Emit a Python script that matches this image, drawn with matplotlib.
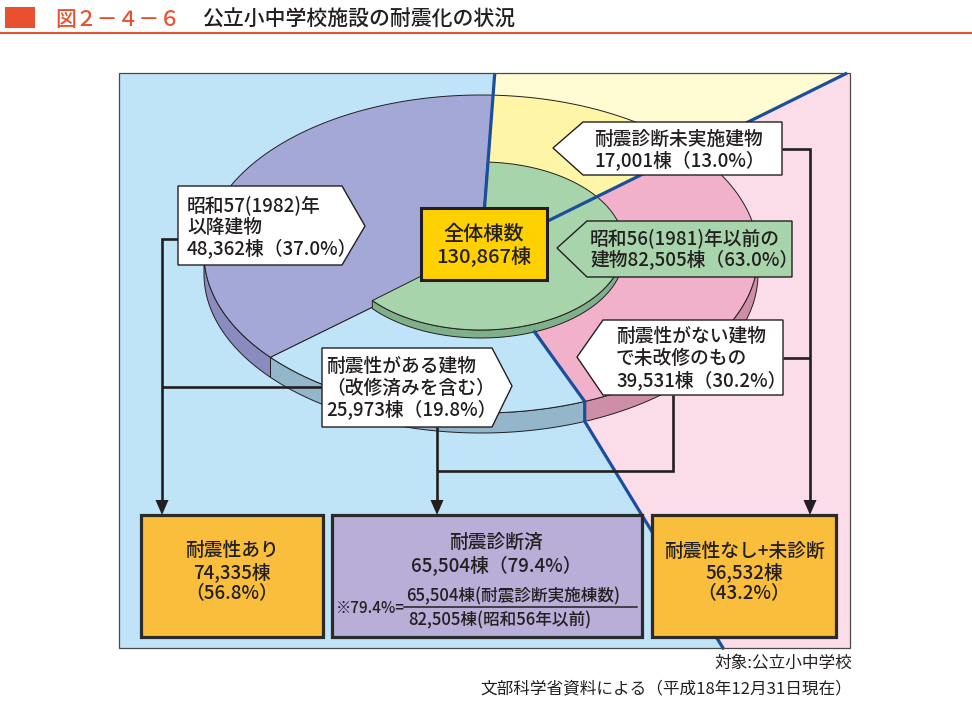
import numpy as np
import matplotlib.pyplot as plt
import matplotlib.patches as patches

plt.rcParams['font.family'] = ['Noto Sans CJK JP', 'DejaVu Sans']
plt.rcParams['font.weight'] = 'medium'

# データ（文部科学省資料、平成18年12月31日現在）
seg_counts = [48362, 25973, 39531, 17001]   # 昭和57以降 / 耐震性あり / 耐震性なし / 未診断
seg_pcts = [37.0, 19.8, 30.2, 13.0]
old_count, old_pct = 82505, 63.0            # 昭和56年以前
total_count = 130867
safe_count, safe_pct = 74335, 56.8
diag_count, diag_pct = 65504, 79.4
unsafe_count, unsafe_pct = 56532, 43.2

# 色
BG_BLUE, BG_YEL, BG_PINK = '#bfe4f7', '#fffbd2', '#fbdde9'
face_cols = ['#a4a8d6', '#bfe4f7', '#f2b1cb', '#fff5a6']
side_cols = ['#8a8cc0', '#93b6ca', '#cf8ea8', '#e0d58a']
GREEN, GREEN_SIDE = '#a8d4ac', '#7fb08a'
LINE_BLUE = '#1b4e9b'
INK = '#231f20'
RED = '#e8502f'

# 円グラフの形（ピクセル座標）
CX, CY, RX, RY, TH = 481, 254, 277, 159, 20
GCX, GCY, GRX, GRY, GTH = 481, 246, 143, 84, 8
START = 87.5
PX0, PY0, PX1, PY1 = 119, 73, 850, 648

fig = plt.figure(figsize=(9.72, 7.06), dpi=100)
ax = fig.add_axes([0, 0, 1, 1])
ax.set_xlim(0, 972)
ax.set_ylim(706, 0)
ax.axis('off')


def arc(cx, cy, rx, ry, a0, a1, n=200):
    t = np.radians(np.linspace(a0, a1, n))
    return np.column_stack([cx + rx * np.cos(t), cy - ry * np.sin(t)])


def pt(cx, cy, rx, ry, a):
    return cx + rx * np.cos(np.radians(a)), cy - ry * np.sin(np.radians(a))


total = sum(seg_counts)
cum = np.concatenate([[0], np.cumsum(seg_counts)]) / total * 360 + START
green_a0 = START + 360 - old_count / total * 360
green_a1 = START + 360

# 背景の区切り線（扇形の境界を延長）
ta = (CY - PY0) / (RY * np.sin(np.radians(cum[0])))
lineA_end = (CX + RX * np.cos(np.radians(cum[0])) * ta, PY0)
bx, by = RX * np.cos(np.radians(cum[3])), RY * np.sin(np.radians(cum[3]))
tb = min((PX1 - CX) / bx, (CY - PY0) / by)
lineB_end = (CX + bx * tb, CY - by * tb)
c_in = pt(GCX, GCY + GTH, GRX, GRY, cum[2])
c_rim = pt(CX, CY, RX, RY, cum[2])
c_low = (c_rim[0], c_rim[1] + TH)
c_end = (723, PY1)
lineC = [c_in, c_rim, c_low, c_end]

blue_poly = [(PX0, PY0), lineA_end, (CX, CY), c_rim, c_low, c_end, (PX0, PY1)]
yel_poly = [lineA_end, (PX1, PY0), lineB_end, (CX, CY)]
pink_poly = [(CX, CY), lineB_end, (PX1, PY0), (PX1, PY1), c_end, c_low, c_rim]
ax.add_patch(patches.Polygon(blue_poly, closed=True, fc=BG_BLUE, ec='none', zorder=1))
ax.add_patch(patches.Polygon(yel_poly, closed=True, fc=BG_YEL, ec='none', zorder=1))
ax.add_patch(patches.Polygon(pink_poly, closed=True, fc=BG_PINK, ec='none', zorder=1))
ax.add_patch(patches.Rectangle((PX0, PY0), PX1 - PX0, PY1 - PY0, fc='none', ec='#4a4a4a', lw=0.9, zorder=20))

# 外側の扇形：側面
for i in range(4):
    lo, hi = max(cum[i], 180), min(cum[i + 1], 360)
    if hi > lo:
        top = arc(CX, CY, RX, RY, lo, hi)
        bot = arc(CX, CY + TH, RX, RY, hi, lo)
        ax.add_patch(patches.Polygon(np.vstack([top, bot]), closed=True, fc=side_cols[i],
                                     ec=INK, lw=0.7, zorder=3))
# 外側の扇形：上面
for i in range(4):
    pts = np.vstack([[CX, CY], arc(CX, CY, RX, RY, cum[i], cum[i + 1])])
    ax.add_patch(patches.Polygon(pts, closed=True, fc=face_cols[i], ec=INK, lw=0.7, zorder=4))

# 昭和56年以前（緑）
top = arc(GCX, GCY, GRX, GRY, green_a0, 360)
bot = arc(GCX, GCY + GTH, GRX, GRY, 360, green_a0)
ax.add_patch(patches.Polygon(np.vstack([top, bot]), closed=True, fc=GREEN_SIDE, ec=INK, lw=0.7, zorder=5))
pts = np.vstack([[GCX, GCY], arc(GCX, GCY, GRX, GRY, green_a0, green_a1)])
ax.add_patch(patches.Polygon(pts, closed=True, fc=GREEN, ec=INK, lw=0.7, zorder=6))

# 青い区切り線
ax.plot([CX, lineA_end[0]], [CY, lineA_end[1]], color=LINE_BLUE, lw=2.3, zorder=7, solid_capstyle='butt')
ax.plot([CX, lineB_end[0]], [CY, lineB_end[1]], color=LINE_BLUE, lw=2.3, zorder=7, solid_capstyle='butt')
ax.plot([p[0] for p in lineC], [p[1] for p in lineC], color=LINE_BLUE, lw=2.3, zorder=7,
        solid_joinstyle='miter')

# 矢印・連結線
CLW = 1.9


def conn(xs, ys):
    ax.plot(xs, ys, color=INK, lw=CLW, zorder=8, solid_joinstyle='miter', solid_capstyle='butt')


def head(x, y):
    ax.add_patch(patches.Polygon([(x - 6.5, y - 15), (x + 6.5, y - 15), (x, y)], closed=True,
                                 fc=INK, ec='none', zorder=9))


conn([178, 162, 162], [239, 239, 500])
conn([322, 162], [387, 387])
head(162, 515)
conn([437, 437], [427, 500])
conn([437, 673, 673], [471, 471, 395])
head(437, 515)
conn([782, 810, 810], [149, 149, 500])
conn([783, 810], [358, 358])
head(810, 515)


# 吹き出しラベル
def callout(x0, y0, x1, y1, tip, side, lines, x_text, y_lines, fc='white'):
    if side == 'right':
        poly = [(x0, y0), (x1, y0), tip, (x1, y1), (x0, y1)]
    else:
        poly = [(x1, y0), (x1, y1), (x0, y1), tip, (x0, y0)]
    ax.add_patch(patches.Polygon(poly, closed=True, fc=fc, ec=INK, lw=1.0, zorder=10))
    for s, yy in zip(lines, y_lines):
        ax.text(x_text, yy, s, ha='left', va='center', fontsize=13.5, color=INK, zorder=11)


callout(178, 186, 342, 265, (365, 226), 'right',
        ['昭和57(1982)年', '以降建物', f'{seg_counts[0]:,}棟（{seg_pcts[0]:.1f}%）'],
        187, [205, 227, 249])
callout(322, 348, 492, 427, (512, 386), 'right',
        ['耐震性がある建物', '（改修済みを含む）', f'{seg_counts[1]:,}棟（{seg_pcts[1]:.1f}%）'],
        326, [366, 388, 410])
callout(583, 122, 782, 175, (553, 148), 'left',
        ['耐震診断未実施建物', f'{seg_counts[3]:,}棟（{seg_pcts[3]:.1f}%）'],
        594, [139, 161])
callout(587, 221, 792, 277, (557, 248), 'left',
        ['昭和56(1981)年以前の', f'建物{old_count:,}棟（{old_pct:.1f}%）'],
        590, [238, 260], fc=GREEN)
callout(603, 320, 783, 395, (577, 357), 'left',
        ['耐震性がない建物', 'で未改修のもの', f'{seg_counts[2]:,}棟（{seg_pcts[2]:.1f}%）'],
        616, [337, 359, 381])

# 全体棟数
ax.add_patch(patches.Rectangle((421, 208), 126, 72, fc='#ffd100', ec=INK, lw=2.2, zorder=12))
ax.text(484, 234, '全体棟数', ha='center', va='center', fontsize=14.5, color=INK, zorder=13)
ax.text(484, 257, f'{total_count:,}棟', ha='center', va='center', fontsize=14.5, color=INK, zorder=13)

# 下段の3つの箱
BOX_Y0, BOX_Y1 = 515, 637
for x0, x1, fc in [(141, 323, '#f8be3c'), (332, 642, '#b8aed8'), (652, 836, '#f8be3c')]:
    ax.add_patch(patches.Rectangle((x0, BOX_Y0), x1 - x0, BOX_Y1 - BOX_Y0, fc=fc, ec='#2b2b2b',
                                   lw=2.3, zorder=12))

for cx_, lines in [(232, ['耐震性あり', f'{safe_count:,}棟', f'（{safe_pct:.1f}%）']),
                   (744, ['耐震性なし+未診断', f'{unsafe_count:,}棟', f'（{unsafe_pct:.1f}%）'])]:
    for s, yy in zip(lines, [551, 572, 593]):
        ax.text(cx_, yy, s, ha='center', va='center', fontsize=13.5, color=INK, zorder=13)

ax.text(496, 542, '耐震診断済', ha='center', va='center', fontsize=13.5, color=INK, zorder=13)
ax.text(496, 566, f'{diag_count:,}棟（{diag_pct:.1f}%）', ha='center', va='center', fontsize=13.5,
        color=INK, zorder=13)
ax.text(336, 608, f'※{diag_pct:.1f}%=', ha='left', va='center', fontsize=11, color=INK, zorder=13)
ax.plot([404, 637], [607, 607], color=INK, lw=1.1, zorder=13)
ax.text(406, 596, f'{diag_count:,}棟(耐震診断実施棟数)', ha='left', va='center', fontsize=12,
        color=INK, zorder=13)
ax.text(408, 620, f'{old_count:,}棟(昭和56年以前)', ha='left', va='center', fontsize=12,
        color=INK, zorder=13)

# タイトル
ax.add_patch(patches.Rectangle((5, 7), 30, 21, fc=RED, ec='none'))
ax.plot([0, 972], [33, 33], color=RED, lw=1.5)
ax.text(55, 20, '図２－４－６', ha='left', va='center', fontsize=15, color=RED)
ax.text(202, 20, '公立小中学校施設の耐震化の状況', ha='left', va='center', fontsize=15, color=INK)

# 出典
ax.text(852, 663, '対象:公立小中学校', ha='right', va='center', fontsize=12, color=INK,
        fontweight='normal')
ax.text(852, 689, '文部科学省資料による（平成18年12月31日現在）', ha='right', va='center', fontsize=12,
        color=INK, fontweight='normal')

plt.savefig('out.png', dpi=100)
